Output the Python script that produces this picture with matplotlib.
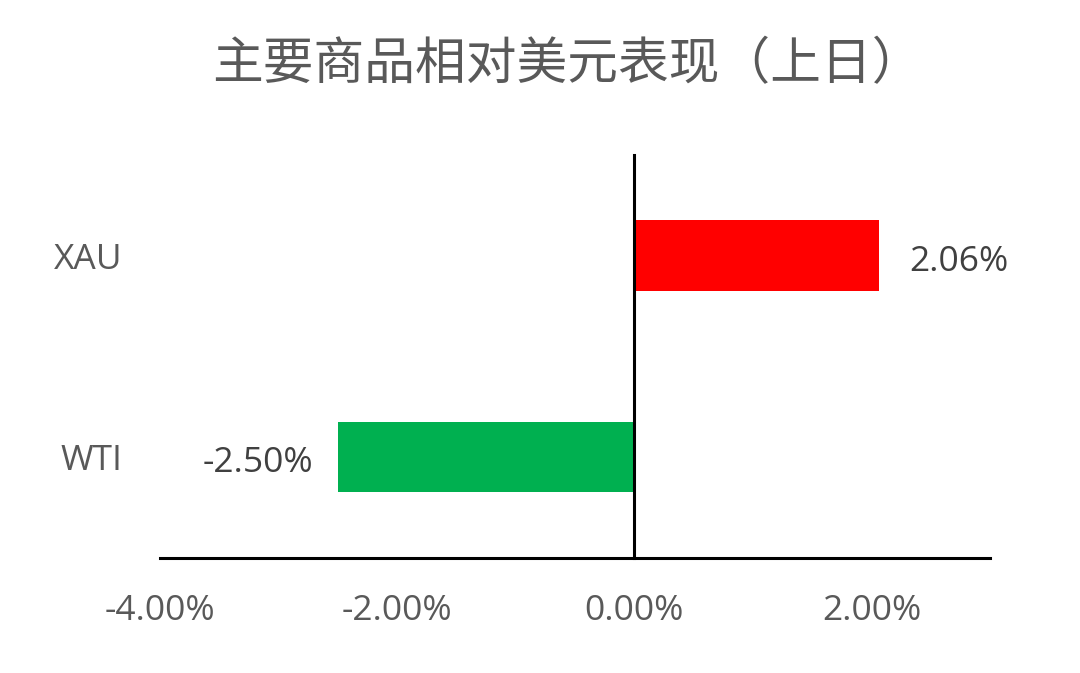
import matplotlib.pyplot as plt
from matplotlib.ticker import FuncFormatter

plt.rcParams['font.family'] = ['Open Sans', 'Noto Sans CJK SC', 'DejaVu Sans']

# 数据
商品 = ['WTI', 'XAU']
涨跌 = [-2.50, 2.06]
颜色 = ['#00b050', '#ff0000']
x刻度 = [-4, -2, 0, 2]

fig = plt.figure(figsize=(10.8, 6.73), dpi=100)
ax = fig.add_axes([0.148, 0.171, 0.769, 0.599])

y = list(range(len(商品)))
ax.barh(y, 涨跌, height=0.35, color=颜色, zorder=2)

for yi, v in zip(y, 涨跌):
    if v >= 0:
        ax.text(v + 0.26, yi - 0.03, f'{v:.2f}%', ha='left', va='center',
                fontsize=25.5, color='#404040')
    else:
        ax.text(v - 0.21, yi - 0.03, f'{v:.2f}%', ha='right', va='center',
                fontsize=25.5, color='#404040')

ax.set_xlim(-4, 3)
ax.set_ylim(-0.5, 1.5)
ax.set_xticks(x刻度)
ax.xaxis.set_major_formatter(FuncFormatter(lambda v, p: f'{v:.2f}%'))
ax.set_yticks(y)
ax.set_yticklabels(商品)

ax.spines['top'].set_visible(False)
ax.spines['right'].set_visible(False)
ax.spines['left'].set_position(('data', 0))
ax.spines['left'].set_linewidth(2.2)
ax.spines['bottom'].set_linewidth(2.2)
ax.spines['left'].set_zorder(3)

ax.tick_params(axis='x', length=0, pad=26, labelsize=25.5, labelcolor='#595959')
ax.tick_params(axis='y', length=0, labelsize=25.5, labelcolor='#595959')
# 类别标签放在图区最左侧
for lab in ax.get_yticklabels():
    lab.set_x(-0.045)
    lab.set_transform(ax.get_yaxis_transform())
    lab.set_ha('right')

fig.text(0.525, 0.903, '主要商品相对美元表现（上日）', ha='center', va='center',
         fontsize=36.5, color='#595959', family=['Noto Sans CJK SC', 'DejaVu Sans'])

fig.savefig('out.png', dpi=100)
